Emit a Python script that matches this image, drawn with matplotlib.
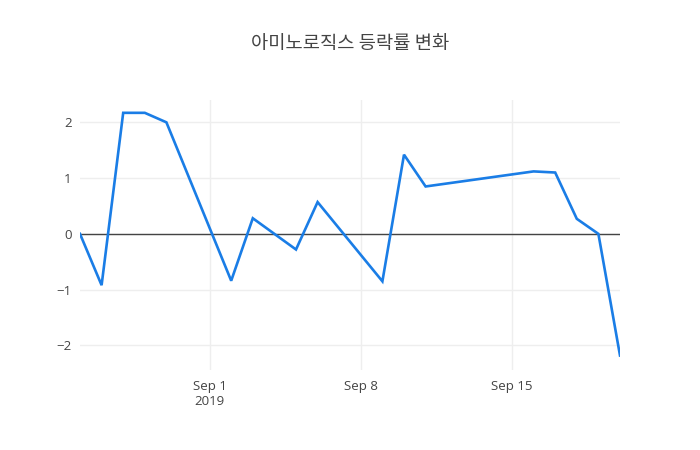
import pandas as pd
import numpy as np
import matplotlib
matplotlib.use('Agg')
from matplotlib import pyplot as plt
import matplotlib.dates as mdates

plt.rcParams['font.family'] = ['Open Sans', 'Noto Sans CJK KR', 'DejaVu Sans']

dates = ['2019-08-26', '2019-08-27', '2019-08-28', '2019-08-29', '2019-08-30',
         '2019-09-02', '2019-09-03', '2019-09-04', '2019-09-05', '2019-09-06',
         '2019-09-09', '2019-09-10', '2019-09-11',
         '2019-09-16', '2019-09-17', '2019-09-18', '2019-09-19', '2019-09-20']
changes = [0.0, -0.92, 2.17, 2.17, 2.0,
           -0.84, 0.28, 0.0, -0.28, 0.57,
           -0.85, 1.42, 0.85,
           1.12, 1.10, 0.27, 0.0, -2.18]
tick_dates = ['2019-09-01', '2019-09-08', '2019-09-15']
tick_labels = ['Sep 1\n2019', 'Sep 8', 'Sep 15']
title = '아미노로직스 등락률 변화'

x = pd.to_datetime(dates)
fig = plt.figure(figsize=(7, 4.5), dpi=100)
ax = fig.add_axes([80/700, 80/450, 540/700, 270/450])

ax.plot(x, changes, color='#1a7de6', lw=1.9, zorder=3, solid_joinstyle='miter')
ax.axhline(0, color='#444444', lw=1, zorder=2)

ax.set_xlim(x[0], x[-1])
ax.set_ylim(-2.44, 2.40)
ax.set_xticks(pd.to_datetime(tick_dates))
ax.set_xticklabels(tick_labels, linespacing=1.2)
ax.set_yticks([-2, -1, 0, 1, 2])
ax.set_yticklabels(['\u22122', '\u22121', '0', '1', '2'])

ax.grid(True, color='#eeeeee', lw=1, zorder=0)
for s in ax.spines.values():
    s.set_visible(False)
ax.tick_params(length=0, labelsize=9.5, colors='#444444', pad=6)
ax.tick_params(axis='x', pad=7)

fig.text(0.5, 1 - 43/450, title, ha='center', va='center', fontsize=13.5,
         color='#444444', family=['Noto Sans CJK KR', 'DejaVu Sans'])

fig.savefig('out.png', dpi=100)
